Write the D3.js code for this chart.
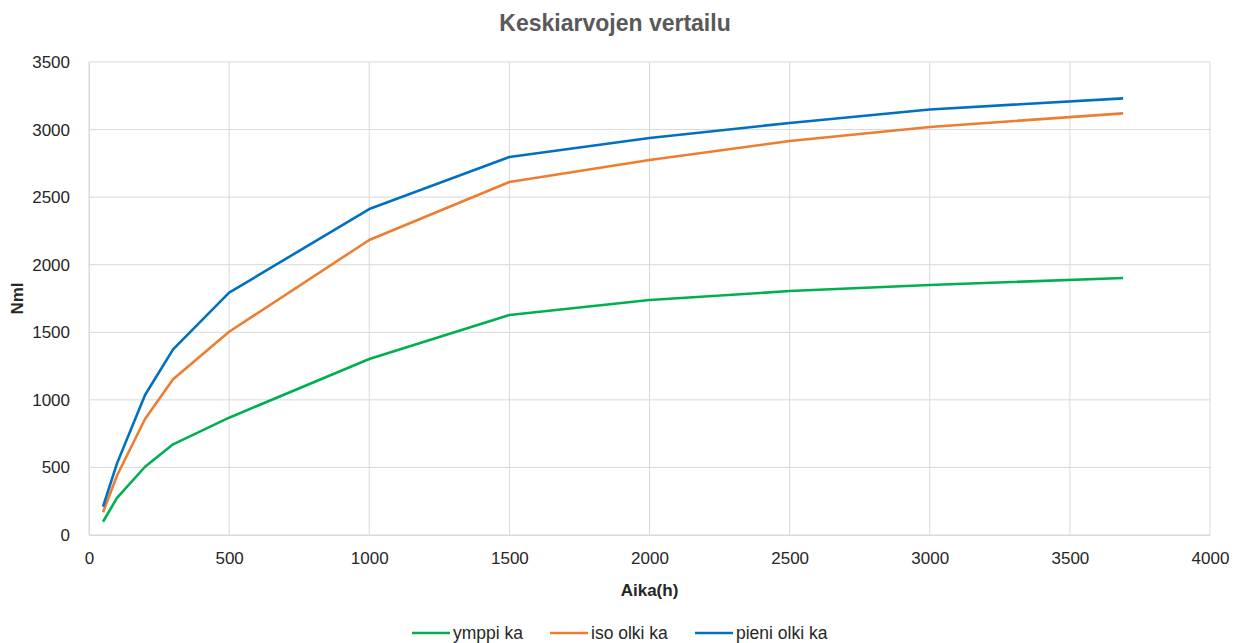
<!DOCTYPE html>
<html>
<head>
<meta charset="utf-8">
<script src="https://cdn.jsdelivr.net/npm/d3@7"></script>
<style>
  html, body { margin: 0; padding: 0; background: #fff; }
  svg { display: block; font-family: "Liberation Sans", Arial, sans-serif; }
</style>
</head>
<body>
<svg id="chart" width="1233" height="643"></svg>
<script>
// Measurement times (h)
const hours = [50, 100, 200, 300, 500, 1000, 1500, 2000, 2500, 3000, 3690];

// Mean cumulative gas volume (Nml) per substrate
const ymppiKa     = [98, 275, 505, 671, 868, 1302, 1628, 1739, 1805, 1850, 1902];
const isoOlkiKa   = [168, 440, 858, 1152, 1504, 2183, 2612, 2775, 2915, 3019, 3120];
const pieniOlkiKa = [210, 530, 1036, 1374, 1793, 2412, 2797, 2938, 3049, 3149, 3231];

const seriesNames = ["ymppi ka", "iso olki ka", "pieni olki ka"];
const seriesColors = ["#00b050", "#ed7d31", "#0070c0"];

const xTicks = [0, 500, 1000, 1500, 2000, 2500, 3000, 3500, 4000];
const yTicks = [0, 500, 1000, 1500, 2000, 2500, 3000, 3500];

(function draw() {
  const svg = d3.select("#chart");
  const plotLeft = 89, plotRight = 1210, plotTop = 62, plotBottom = 535;

  const x = d3.scaleLinear().domain([0, 4000]).range([plotLeft, plotRight]);
  const y = d3.scaleLinear().domain([0, 3500]).range([plotBottom, plotTop]);

  // Title
  svg.append("text")
    .attr("x", 615).attr("y", 31)
    .attr("text-anchor", "middle")
    .attr("font-size", 23).attr("font-weight", "bold")
    .attr("fill", "#595959")
    .text("Keskiarvojen vertailu");

  // Gridlines
  const grid = svg.append("g");
  grid.selectAll("line.h").data(yTicks).join("line").attr("class", "h")
    .attr("x1", plotLeft).attr("x2", plotRight)
    .attr("y1", d => y(d)).attr("y2", d => y(d))
    .attr("stroke", "#d9d9d9").attr("stroke-width", 1);
  grid.selectAll("line.v").data(xTicks).join("line").attr("class", "v")
    .attr("y1", plotTop).attr("y2", plotBottom)
    .attr("x1", d => x(d)).attr("x2", d => x(d))
    .attr("stroke", "#d9d9d9").attr("stroke-width", 1);

  // Axes
  const xAxis = svg.append("g")
    .attr("transform", `translate(0,${plotBottom})`)
    .call(d3.axisBottom(x).tickValues(xTicks).tickSize(0).tickPadding(17).tickFormat(d3.format("d")));
  xAxis.select(".domain").attr("stroke", "#d9d9d9");
  xAxis.selectAll("text").attr("font-size", 17).attr("fill", "#262626")
    .attr("font-family", "Liberation Sans, Arial, sans-serif");

  const yAxis = svg.append("g")
    .attr("transform", `translate(${plotLeft},0)`)
    .call(d3.axisLeft(y).tickValues(yTicks).tickSize(0).tickPadding(19).tickFormat(d3.format("d")));
  yAxis.select(".domain").attr("stroke", "#d9d9d9");
  yAxis.selectAll("text").attr("font-size", 17).attr("fill", "#262626")
    .attr("font-family", "Liberation Sans, Arial, sans-serif");

  // Axis titles
  svg.append("text")
    .attr("x", x(2000)).attr("y", 596)
    .attr("text-anchor", "middle")
    .attr("font-size", 17).attr("font-weight", "bold").attr("fill", "#262626")
    .text("Aika(h)");
  svg.append("text")
    .attr("transform", `translate(23,${(plotTop + plotBottom) / 2}) rotate(-90)`)
    .attr("text-anchor", "middle")
    .attr("font-size", 17).attr("font-weight", "bold").attr("fill", "#262626")
    .text("Nml");

  // Lines
  const series = [ymppiKa, isoOlkiKa, pieniOlkiKa];
  const line = d3.line().x((d, i) => x(hours[i])).y(d => y(d));
  svg.append("g").selectAll("path").data(series).join("path")
    .attr("d", d => line(d))
    .attr("fill", "none")
    .attr("stroke", (d, i) => seriesColors[i])
    .attr("stroke-width", 2.6)
    .attr("stroke-linejoin", "round");

  // Legend
  const legendX = [412, 550, 695];
  const legend = svg.append("g");
  seriesNames.forEach((name, i) => {
    legend.append("line")
      .attr("x1", legendX[i]).attr("x2", legendX[i] + 38)
      .attr("y1", 633).attr("y2", 633)
      .attr("stroke", seriesColors[i]).attr("stroke-width", 2.6);
    legend.append("text")
      .attr("x", legendX[i] + 41).attr("y", 639)
      .attr("font-size", 17.5).attr("fill", "#262626")
      .text(name);
  });
})();
</script>
</body>
</html>
